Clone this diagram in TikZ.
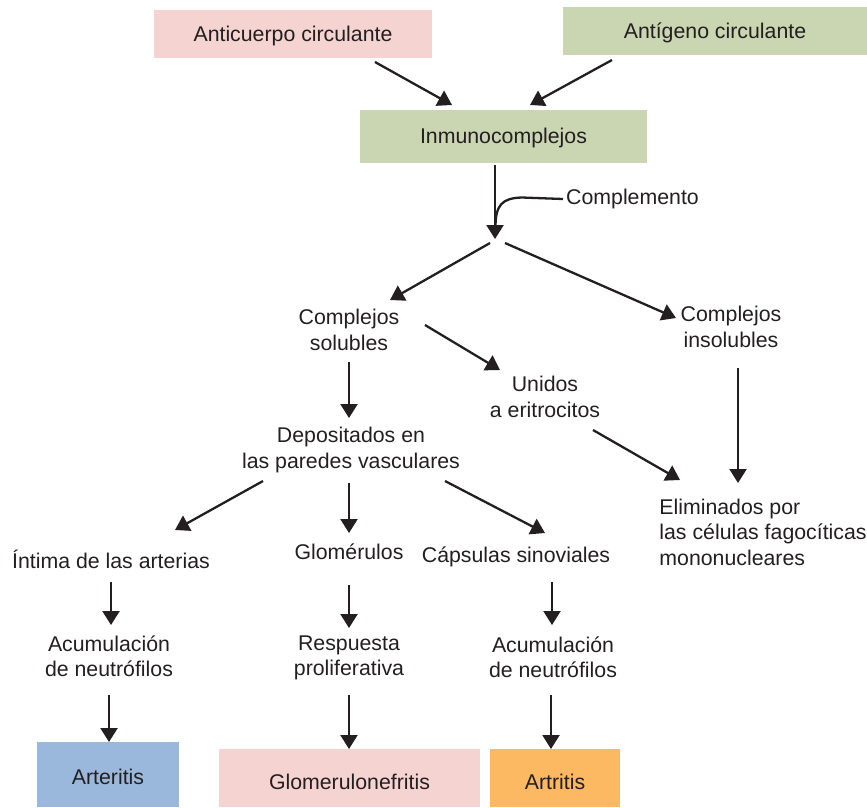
\documentclass[tikz,border=0pt]{standalone}
\usepackage{fontspec}
\setmainfont{Liberation Sans}
\usetikzlibrary{arrows.meta}
\definecolor{ink}{HTML}{231F20}
\definecolor{pinkbox}{HTML}{F5D3D1}
\definecolor{greenbox}{HTML}{C9D6B1}
\definecolor{bluebox}{HTML}{9AB8DC}
\definecolor{orangebox}{HTML}{FDB962}
\begin{document}
\begin{tikzpicture}[x=1pt,y=-1pt,
  every node/.style={text=ink,font=\fontsize{21.3}{25.5}\selectfont},
  label/.style={align=center,inner sep=0pt},
  boxnode/.style={inner sep=0pt,align=center,text depth=4pt},
  arr/.style={draw=ink,line width=2.3pt,-{Triangle[length=14pt,width=17pt]}},
]
\useasboundingbox (0,0) rectangle (867,807);

% coloured boxes (text height sets where the baseline sits in each box)
\node[boxnode,fill=pinkbox,minimum width=278pt,minimum height=48pt,text height=19pt] (anti) at (293,34) {Anticuerpo circulante};
\node[boxnode,fill=greenbox,minimum width=304pt,minimum height=48pt,text height=19pt] (antig) at (715,31) {Antígeno circulante};
\node[boxnode,fill=greenbox,minimum width=287pt,minimum height=53pt,text height=18pt] (inmuno) at (503.5,136.5) {Inmunocomplejos};
\node[boxnode,fill=bluebox,minimum width=142pt,minimum height=65pt,text height=24pt] (arteritis) at (108,774.5) {Arteritis};
\node[boxnode,fill=pinkbox,minimum width=261pt,minimum height=58pt,text height=27pt] (glomneph) at (349.5,778) {Glomerulonefritis};
\node[boxnode,fill=orangebox,minimum width=130pt,minimum height=58pt,text height=27pt] (artritis) at (555,778) {Artritis};

% plain text nodes
\node[label,anchor=west] (compl) at (566,199) {Complemento};
\coordinate (split) at (495,240);
\coordinate (join) at (495.5,227);
\node[label] (sol) at (349,330) {Complejos\\solubles};
\node[label] (insol) at (731,327) {Complejos\\insolubles};
\node[label] (unidos) at (545,397) {Unidos\\a eritrocitos};
\node[label] (depos) at (351,450) {Depositados en\\las paredes vasculares};
\node[label,align=left] (elim) at (763,532) {Eliminados por\\las células fagocíticas\\mononucleares};
\node[label] (intima) at (111,559) {Íntima de las arterias};
\node[label] (glom) at (349,552) {Glomérulos};
\node[label] (caps) at (516,557) {Cápsulas sinoviales};
\node[label] (acum1) at (109,656) {Acumulación\\de neutrófilos};
\node[label] (resp) at (349,658) {Respuesta\\proliferativa};
\node[label] (acum2) at (553,657) {Acumulación\\de neutrófilos};

% connectors
\draw[arr] ([shift={(82,28)}]anti.center) -- ([shift={(-51.5,-31.5)}]inmuno.center);
\draw[arr] ([shift={(-103,29)}]antig.center) -- ([shift={(26.5,-31.5)}]inmuno.center);
\draw[arr] ([shift={(-8.5,28.5)}]inmuno.center) -- ([shift={(0,-1)}]split);
\draw[draw=ink,line width=2.3pt] ([xshift=-3pt]compl.west) -- (522,197.5)
  .. controls (502,198) and (495.5,205) .. (join);
\draw[arr] ([shift={(-5,3)}]split) -- ([shift={(41,-30)}]sol.center);
\draw[arr] ([shift={(10,3)}]split) -- ([shift={(-55,-9)}]insol.center);
\draw[arr] ([shift={(76,-5)}]sol.center) -- ([shift={(-45,-27)}]unidos.center);
\draw[arr] ([shift={(0,32)}]sol.center) -- ([shift={(-2,-32)}]depos.center);
\draw[arr] ([shift={(48,33)}]unidos.center) -- ([shift={(-83,-52)}]elim.center);
\draw[arr] ([shift={(7,41)}]insol.center) -- ([shift={(-25,-49)}]elim.center);
\draw[arr] ([shift={(-88,31)}]depos.center) -- ([shift={(64,-29)}]intima.center);
\draw[arr] ([shift={(-2,33)}]depos.center) -- ([shift={(0,-19)}]glom.center);
\draw[arr] ([shift={(94,31)}]depos.center) -- ([shift={(29,-24)}]caps.center);
\draw[arr] ([shift={(0,23)}]intima.center) -- ([shift={(2,-31)}]acum1.center);
\draw[arr] ([shift={(0,33)}]glom.center) -- ([shift={(0,-30)}]resp.center);
\draw[arr] ([shift={(36,25)}]caps.center) -- ([shift={(-1,-32)}]acum2.center);
\draw[arr] ([shift={(0,39)}]acum1.center) -- ([shift={(1,-32.5)}]arteritis.center);
\draw[arr] ([shift={(0,37)}]resp.center) -- ([shift={(-0.5,-29)}]glomneph.center);
\draw[arr] ([shift={(-2,38)}]acum2.center) -- ([shift={(-4,-29)}]artritis.center);
\end{tikzpicture}
\end{document}
